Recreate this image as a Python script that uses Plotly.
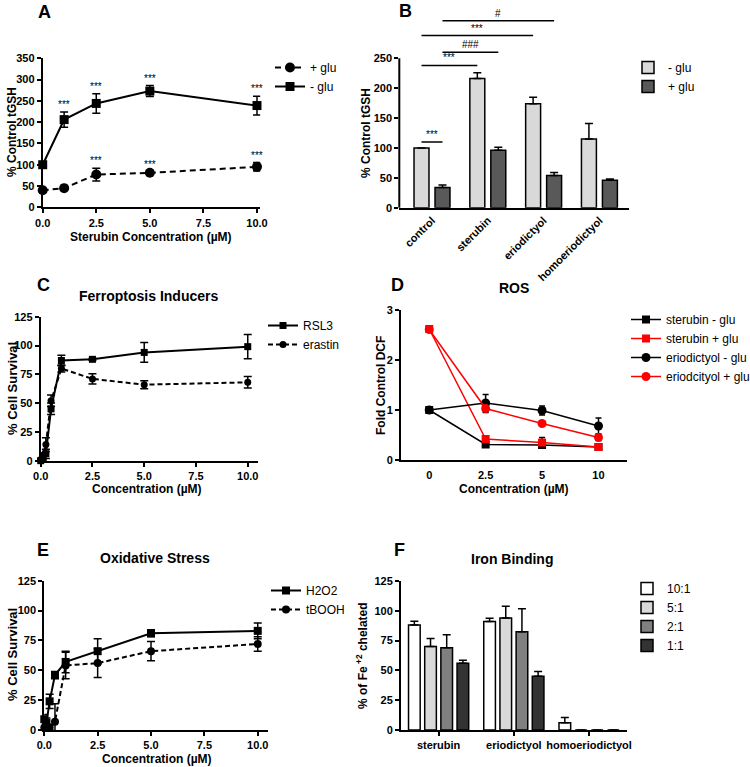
import plotly.graph_objects as go

W, H = 750, 767
FONT = 'Liberation Sans, Arial, sans-serif'

# A: total GSH vs sterubin concentration
a_conc = [0, 1, 2.5, 5, 10]
a_plus = [40, 45, 77, 81, 95]
a_plus_err = [0, 3, 15, 3, 10]
a_plus_sig = ['', '', '***', '***', '***']
a_minus = [100, 206, 244, 273, 239]
a_minus_err = [0, 18, 23, 13, 22]
a_minus_sig = ['', '***', '***', '***', '***']

# B: tGSH by compound
b_groups = ['control', 'sterubin', 'eriodictyol', 'homoeriodictyol']
b_minus = [100, 216, 174, 115]
b_minus_err = [0, 10, 11, 26]
b_plus = [34, 96, 54, 46]
b_plus_err = [4, 5, 5, 2]
# (group, bar, group, bar, height, label); bar 0 = - glu, 1 = + glu
b_sig = [(0, 0, 0, 1, 110, '***'), (0, 0, 1, 0, 238, '***'), (0, 1, 1, 1, 260, '###'),
         (0, 0, 2, 0, 288, '***'), (0, 1, 2, 1, 313, '#')]

# C: ferroptosis inducers
c_conc = [0, 0.1, 0.25, 0.5, 1, 2.5, 5, 10]
c_rsl3 = [0, 2, 6, 45, 87, 88, 94, 99]
c_rsl3_err = [1, 2, 4, 5, 4.5, 1, 8.5, 10.5]
c_erastin = [1, 4, 14, 52, 80, 71, 66, 68]
c_erastin_err = [1, 3, 6, 5, 3, 4.5, 3.5, 5]

# D: ROS
d_conc = ['0', '2.5', '5', '10']
d_ster_minus = [1.0, 0.31, 0.30, 0.26]
d_ster_minus_err = [0, 0.02, 0.02, 0.02]
d_ster_plus = [2.62, 0.42, 0.35, 0.26]
d_ster_plus_err = [0.02, 0.03, 0.1, 0.03]
d_erio_minus = [1.0, 1.14, 0.99, 0.68]
d_erio_minus_err = [0, 0.17, 0.09, 0.16]
d_erio_plus = [2.61, 1.03, 0.73, 0.45]
d_erio_plus_err = [0.02, 0.08, 0.03, 0.06]

# E: oxidative stress
e_conc = [0, 0.1, 0.25, 0.5, 1, 2.5, 5, 10]
e_h2o2 = [9, 6, 24, 46, 57, 66, 81, 83]
e_h2o2_err = [4, 4, 6, 3, 9, 10.5, 3, 6.5]
e_tbooh = [2, 3, 2, 7, 54, 56, 66, 72]
e_tbooh_err = [2, 2, 2, 15, 11, 12, 8, 6]

# F: iron binding
f_groups = ['sterubin', 'eriodictyol', 'homoeriodictyol']
f_ratios = ['10:1', '5:1', '2:1', '1:1']
f_vals = [[88, 91, 6], [70, 94, 0], [69, 82.5, 0], [56, 45, 0]]
f_errs = [[3.3, 2.8, 4.5], [6.7, 9.8, 0], [11, 19.3, 0], [2.5, 4, 0]]
f_colors = ['white', '#d9d9d9', '#808080', '#333333']


# window pixel -> paper coordinate
def px_x(px):
    return px / W


def px_y(py):
    return 1 - py / H


def err(values, up_only=False, width=4):
    d = dict(type='data', array=values, color='black', thickness=1.5, width=width, visible=True)
    if up_only:
        d.update(symmetric=False, arrayminus=[0] * len(values))
    return d


def axis(x0, x1, rng, **kw):
    base = dict(domain=[x0, x1], range=rng, showline=True, linecolor='black', linewidth=2,
                ticks='outside', ticklen=4, tickwidth=1.5, tickcolor='black',
                showgrid=False, zeroline=False,
                tickfont=dict(family=FONT, size=11, color='black', weight='bold'))
    base.update(kw)
    return base


fig = go.Figure()

# A
fig.add_trace(go.Scatter(x=a_conc, y=a_plus, name='+ glu', mode='lines+markers',
                         line=dict(color='black', width=2, dash='6px,4px'),
                         marker=dict(symbol='circle', size=10, color='black'),
                         error_y=err(a_plus_err), cliponaxis=False,
                         xaxis='x', yaxis='y', legend='legend'))
fig.add_trace(go.Scatter(x=a_conc, y=a_minus, name='- glu', mode='lines+markers',
                         line=dict(color='black', width=2),
                         marker=dict(symbol='square', size=9, color='black'),
                         error_y=err(a_minus_err), cliponaxis=False,
                         xaxis='x', yaxis='y', legend='legend'))

# B
b_width = 0.268
b_offsets = [-0.322, 0.054]
fig.add_trace(go.Bar(x=b_groups, y=b_minus, name='- glu', width=b_width, offset=b_offsets[0],
                     marker=dict(color='#d9d9d9', line=dict(color='black', width=1.5)),
                     error_y=err(b_minus_err, up_only=True),
                     xaxis='x2', yaxis='y2', legend='legend2'))
fig.add_trace(go.Bar(x=b_groups, y=b_plus, name='+ glu', width=b_width, offset=b_offsets[1],
                     marker=dict(color='#595959', line=dict(color='black', width=1.5)),
                     error_y=err(b_plus_err, up_only=True),
                     xaxis='x2', yaxis='y2', legend='legend2'))

# C
fig.add_trace(go.Scatter(x=c_conc, y=c_rsl3, name='RSL3', mode='lines+markers',
                         line=dict(color='black', width=2),
                         marker=dict(symbol='square', size=7, color='black'),
                         error_y=err(c_rsl3_err), cliponaxis=False,
                         xaxis='x3', yaxis='y3', legend='legend3'))
fig.add_trace(go.Scatter(x=c_conc, y=c_erastin, name='erastin', mode='lines+markers',
                         line=dict(color='black', width=2, dash='5px,3px'),
                         marker=dict(symbol='circle', size=7, color='black'),
                         error_y=err(c_erastin_err), cliponaxis=False,
                         xaxis='x3', yaxis='y3', legend='legend3'))

# D
d_series = [
    ('sterubin - glu', d_ster_minus, d_ster_minus_err, 'black', 'square'),
    ('sterubin + glu', d_ster_plus, d_ster_plus_err, '#ff0000', 'square'),
    ('eriodictyol - glu', d_erio_minus, d_erio_minus_err, 'black', 'circle'),
    ('eriodcityol + glu', d_erio_plus, d_erio_plus_err, '#ff0000', 'circle'),
]
for name, vals, errs, col, sym in d_series:
    fig.add_trace(go.Scatter(x=d_conc, y=vals, name=name, mode='lines+markers',
                             line=dict(color=col, width=1.5),
                             marker=dict(symbol=sym, size=9 if sym == 'circle' else 8, color=col),
                             error_y=err(errs, width=3), cliponaxis=False,
                             xaxis='x4', yaxis='y4', legend='legend4'))

# E
fig.add_trace(go.Scatter(x=e_conc, y=e_h2o2, name='H2O2', mode='lines+markers',
                         line=dict(color='black', width=2),
                         marker=dict(symbol='square', size=8, color='black'),
                         error_y=err(e_h2o2_err), cliponaxis=False,
                         xaxis='x5', yaxis='y5', legend='legend5'))
fig.add_trace(go.Scatter(x=e_conc, y=e_tbooh, name='tBOOH', mode='lines+markers',
                         line=dict(color='black', width=2, dash='5px,3px'),
                         marker=dict(symbol='circle', size=8, color='black'),
                         error_y=err(e_tbooh_err), cliponaxis=False,
                         xaxis='x5', yaxis='y5', legend='legend5'))

# F
f_width = 0.155
f_offsets = [-0.4, -0.185, 0.03, 0.245]
for ratio, vals, errs, col, off in zip(f_ratios, f_vals, f_errs, f_colors, f_offsets):
    fig.add_trace(go.Bar(x=f_groups, y=vals, name=ratio, width=f_width, offset=off,
                         marker=dict(color=col, line=dict(color='black', width=1.5)),
                         error_y=err(errs, up_only=True),
                         xaxis='x6', yaxis='y6', legend='legend6'))

# B significance brackets (drawn in data units above the bars)
b_top = 335
shapes = [dict(type='line', xref='x2 domain', yref='y2 domain', x0=0, x1=0, y0=0, y1=250 / b_top,
               line=dict(color='black', width=2))]
annotations = []
for g0, i0, g1, i1, h, lab in b_sig:
    xa = g0 + b_offsets[i0] + b_width / 2
    xb = g1 + b_offsets[i1] + b_width / 2
    shapes.append(dict(type='line', xref='x2', yref='y2', x0=xa, x1=xb, y0=h, y1=h,
                       line=dict(color='black', width=1.5)))
    annotations.append(dict(xref='x2', yref='y2', x=(xa + xb) / 2, y=h, text=lab, showarrow=False,
                            yanchor='bottom', font=dict(family=FONT, size=10, color='black')))

# A significance stars
for xs, ys, es, sig in [(a_conc, a_minus, a_minus_err, a_minus_sig), (a_conc, a_plus, a_plus_err, a_plus_sig)]:
    for xv, yv, ev, s in zip(xs, ys, es, sig):
        if s:
            annotations.append(dict(xref='x', yref='y', x=xv, y=yv + ev, text=s, showarrow=False,
                                    yanchor='bottom', font=dict(family=FONT, size=10, color='black')))


def label(px, py, text, size, bold=True, angle=0):
    annotations.append(dict(xref='paper', yref='paper', x=px_x(px), y=px_y(py), text=text,
                            showarrow=False, xanchor='center', yanchor='middle', textangle=angle,
                            font=dict(family=FONT, size=size, color='black',
                                      weight='bold' if bold else 'normal')))


# panel letters
for px, py, t in [(44, 12, 'A'), (405, 11, 'B'), (43, 285, 'C'), (398, 285, 'D'), (43, 550, 'E'), (399, 550, 'F')]:
    label(px, py, t, 18)

# panel titles
label(148, 296, 'Ferroptosis Inducers', 14)
label(514, 288, 'ROS', 14)
label(155, 558, 'Oxidative Stress', 14)
label(512, 559, 'Iron Binding', 14)

# axis titles
label(12, 132, '% Control tGSH', 12, angle=-90)
label(366, 133, '% Control tGSH', 12, angle=-90)
label(12, 389, '% Cell Survival', 13, angle=-90)
label(381, 386, 'Fold Control DCF', 12, angle=-90)
label(12, 655, '% Cell Survival', 13, angle=-90)
label(362, 656, '% of Fe<sup> +2</sup> chelated', 12, angle=-90)
label(151, 237, 'Sterubin Concentration (µM)', 12)
label(147, 489, 'Concentration (µM)', 12)
label(514, 489, 'Concentration (µM)', 12)
label(157, 759, 'Concentration (µM)', 12)


def legend(px, py):
    return dict(x=px_x(px), y=px_y(py), xanchor='left', yanchor='top', bgcolor='rgba(0,0,0,0)',
                tracegroupgap=0, font=dict(family=FONT, size=12, color='black'))


fig.update_layout(
    width=W, height=H, autosize=False, margin=dict(l=0, r=0, t=0, b=0, autoexpand=False),
    paper_bgcolor='white', plot_bgcolor='white', barmode='group',
    xaxis=axis(px_x(42.7), px_x(260.2), [0, 10.15], anchor='y',
               tickvals=[0, 2.5, 5, 7.5, 10], tickformat='.1f'),
    yaxis=axis(px_y(207.3), px_y(58.3), [0, 350], anchor='x', dtick=50),
    xaxis2=axis(px_x(399.3), px_x(629), [-0.586, 3.53], anchor='y2', type='category',
                ticks='', tickangle=-45),
    yaxis2=axis(px_y(207.7), px_y(207.7 - 149.4 * b_top / 250), [0, b_top], anchor='x2',
                tickvals=[0, 50, 100, 150, 200, 250], showline=False),
    xaxis3=axis(px_x(40.7), px_x(258.1), [0, 10.5], anchor='y3',
                tickvals=[0, 2.5, 5, 7.5, 10], tickformat='.1f'),
    yaxis3=axis(px_y(460.7), px_y(316.7), [0, 125], anchor='x3', dtick=25),
    xaxis4=axis(px_x(401), px_x(626.7), [-0.5, 3.5], anchor='y4', type='category',
                tickcolor='rgba(0,0,0,0)'),
    yaxis4=axis(px_y(460), px_y(310), [0, 3], anchor='x4', dtick=1),
    xaxis5=axis(px_x(44.3), px_x(268.4), [0, 10.5], anchor='y5',
                tickvals=[0, 2.5, 5, 7.5, 10], tickformat='.1f'),
    yaxis5=axis(px_y(730), px_y(580.7), [0, 125], anchor='x5', dtick=25),
    xaxis6=axis(px_x(401), px_x(626.7), [-0.5, 2.5], anchor='y6', type='category', tickangle=0),
    yaxis6=axis(px_y(730), px_y(581), [0, 125], anchor='x6', dtick=25),
    legend=legend(270, 53),
    legend2=legend(628, 53),
    legend3=legend(263, 311),
    legend4=legend(626, 305),
    legend5=legend(266, 576),
    legend6=legend(627, 574),
    shapes=shapes,
    annotations=annotations,
)

# the figure fills the whole 750x767 window, so drop the page's default body margin
fig.write_html("out.html", config={'displayModeBar': False, 'responsive': False},
               post_script="document.body.style.margin='0';")
